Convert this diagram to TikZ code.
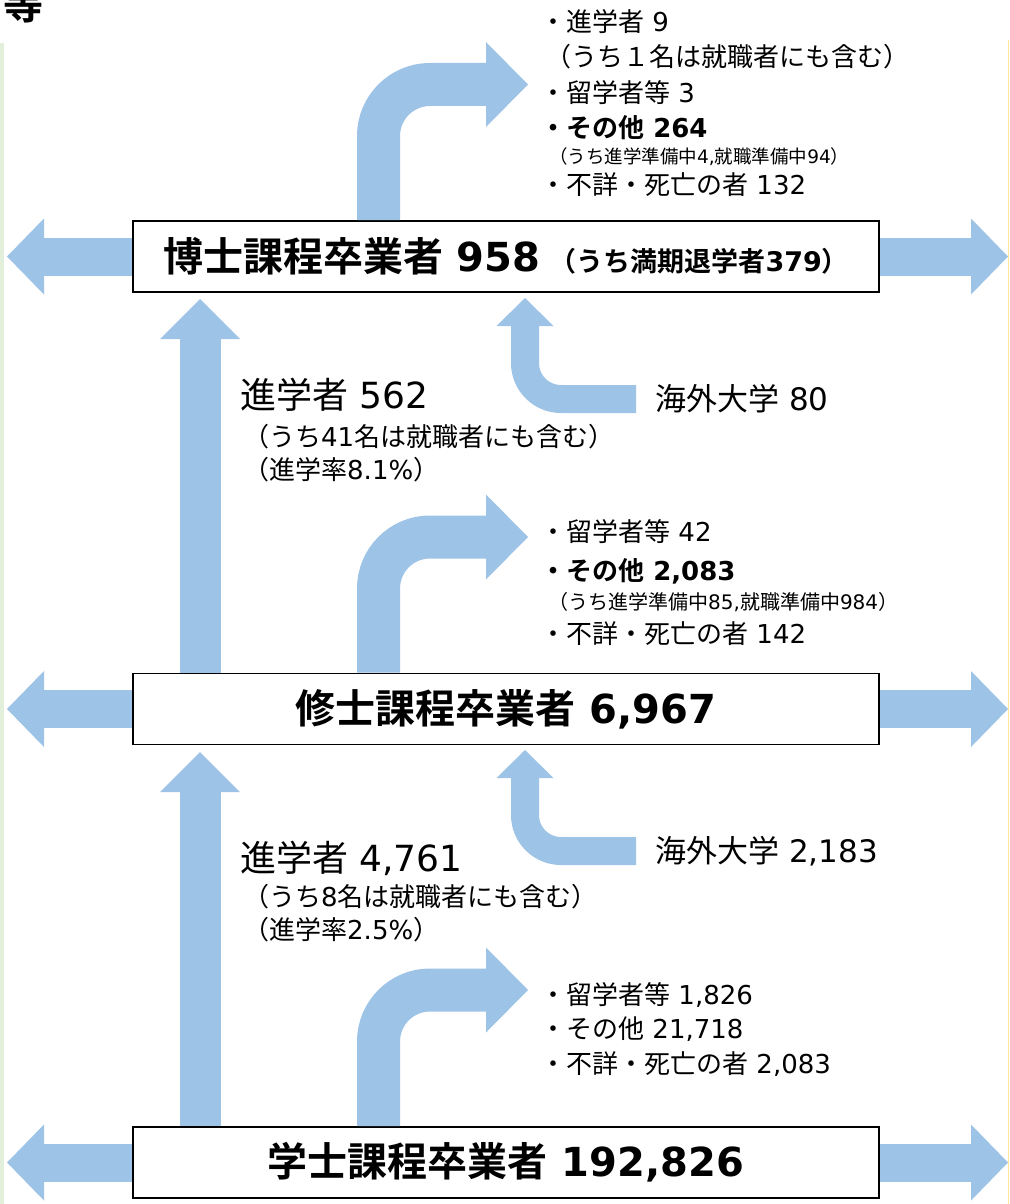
\documentclass[tikz,border=0pt]{standalone}
\usepackage{fontspec}
\setmainfont{Noto Sans CJK JP}[BoldFont={Noto Sans CJK JP Bold}]
\newfontfamily\numfont{DejaVu Sans}
\usetikzlibrary{arrows.meta, positioning}
\definecolor{flowblue}{RGB}{157,195,230}
\definecolor{edgegreen}{RGB}{226,239,218}
\definecolor{edgeyellow}{RGB}{255,230,153}
\tikzset{
  gradbox/.style={rectangle, draw=black, line width=1.8pt, fill=white,
    minimum width=746pt, minimum height=71pt, inner sep=0pt,
    font=\fontsize{40}{48}\selectfont\bfseries},
  sidearrow/.style={draw=flowblue, line width=38pt,
    -{Triangle[length=37pt, width=76pt, line width=0pt]}},
  uparrow/.style={draw=flowblue, line width=41pt,
    -{Triangle[length=40pt, width=80pt, line width=0pt]}},
  bentarrow/.style={draw=flowblue, line width=43pt, rounded corners=51.5pt,
    -{Triangle[length=42pt, width=85pt, line width=0pt]}},
  abroadarrow/.style={draw=flowblue, line width=28pt, rounded corners=36pt,
    -{Triangle[length=28pt, width=57pt, line width=0pt]}},
  listtext/.style={anchor=west, inner sep=0pt, font=\fontsize{26}{31}\selectfont},
  notetext/.style={anchor=west, inner sep=0pt, font=\fontsize{18.5}{22}\selectfont},
  ratetext/.style={anchor=west, inner sep=0pt, font=\fontsize{36}{42}\selectfont},
  subtext/.style={anchor=west, inner sep=0pt, font=\fontsize{26}{31}\selectfont},
  abroadtext/.style={anchor=west, inner sep=0pt, inner xsep=19pt,
    font=\fontsize{31}{36}\selectfont},
}

\begin{document}
\begin{tikzpicture}[x=1pt, y=-1pt]
  \clip (0,0) rectangle (1009,1204);
  \fill[edgegreen] (0,43) rectangle (4,1204);
  \draw[edgeyellow, line width=1pt] (1008,40) -- (1008,1204);
  \node[anchor=base west, inner sep=0pt, font=\fontsize{40}{48}\selectfont\bfseries]
    (topchar) at (3,20) {等};

  % the three graduate boxes
  \node[gradbox] (doc) at (506,256.5)
    {博士課程卒業者{\numfont\ 958} {\fontsize{27}{32}\selectfont（うち満期退学者{\numfont 379}）}};
  \node[gradbox] (mast) at (506,709) {修士課程卒業者{\numfont\ 6,967}};
  \node[gradbox] (bach) at (506,1162.5) {学士課程卒業者{\numfont\ 192,826}};

  % arrow ends
  \coordinate (docleft) at (7,256.5);
  \coordinate (docright) at (1008,256.5);
  \coordinate (mastleft) at (7,709);
  \coordinate (mastright) at (1008,709);
  \coordinate (bachleft) at (7,1162.5);
  \coordinate (bachright) at (1008,1162.5);
  \coordinate (docup) at (200,299);
  \coordinate (mastup) at (200,752);
  \coordinate (docturn) at (378.5,84.5);
  \coordinate (docout) at (528,84.5);
  \coordinate (mastturn) at (378.5,537);
  \coordinate (mastout) at (528,537);
  \coordinate (bachturn) at (378.5,990);
  \coordinate (bachout) at (528,990);
  \coordinate (docin) at (525,298);
  \coordinate (mastin) at (525,750);

  % doctoral outflow
  \node[listtext] (docA) at (540,22) {・進学者{\numfont\ 9}};
  \node[listtext] (docB) at (545,57) {（うち１名は就職者にも含む）};
  \node[listtext] (docC) at (540,93) {・留学者等{\numfont\ 3}};
  \node[listtext, font=\fontsize{26}{31}\selectfont\bfseries] (docD) at (540,128)
    {・その他{\numfont\ 264}};
  \node[notetext] (docE) at (549,157)
    {（うち進学準備中{\numfont 4,}就職準備中{\numfont 94}）};
  \node[listtext] (docF) at (540,185) {・不詳・死亡の者{\numfont\ 132}};

  % master outflow
  \node[listtext] (mastA) at (540,532) {・留学者等{\numfont\ 42}};
  \node[listtext, font=\fontsize{26}{31}\selectfont\bfseries] (mastB) at (540,571)
    {・その他{\numfont\ 2,083}};
  \node[notetext, font=\fontsize{20}{24}\selectfont] (mastC) at (548,602)
    {（うち進学準備中{\numfont 85,}就職準備中{\numfont 984}）};
  \node[listtext] (mastD) at (540,634) {・不詳・死亡の者{\numfont\ 142}};

  % bachelor outflow
  \node[listtext] (bachA) at (540,995) {・留学者等{\numfont\ 1,826}};
  \node[listtext] (bachB) at (540,1029) {・その他{\numfont\ 21,718}};
  \node[listtext] (bachC) at (540,1064) {・不詳・死亡の者{\numfont\ 2,083}};

  % progression labels
  \node[ratetext] (mastgo) at (240,395) {進学者{\numfont\ 562}};
  \node[subtext] (mastgoA) at (243,437) {（うち{\numfont 41}名は就職者にも含む）};
  \node[subtext] (mastgoB) at (243,470) {（進学率{\numfont 8.1\%}）};
  \node[ratetext] (bachgo) at (240,858) {進学者{\numfont\ 4,761}};
  \node[subtext] (bachgoA) at (243,897) {（うち{\numfont 8}名は就職者にも含む）};
  \node[subtext] (bachgoB) at (243,930) {（進学率{\numfont 2.5\%}）};

  % from abroad
  \node[abroadtext] (docabr) at (636,399) {海外大学{\numfont\ 80}};
  \node[abroadtext] (mastabr) at (636,851) {海外大学{\numfont\ 2,183}};

  \draw[sidearrow] (doc.west) -- (docleft);
  \draw[sidearrow] (doc.east) -- (docright);
  \draw[sidearrow] (mast.west) -- (mastleft);
  \draw[sidearrow] (mast.east) -- (mastright);
  \draw[sidearrow] (bach.west) -- (bachleft);
  \draw[sidearrow] (bach.east) -- (bachright);

  \draw[uparrow] (mast.north -| docup) -- (docup);
  \draw[uparrow] (bach.north -| mastup) -- (mastup);

  \draw[bentarrow] (doc.north -| docturn) |- (docout);
  \draw[bentarrow] (mast.north -| mastturn) |- (mastout);
  \draw[bentarrow] (bach.north -| bachturn) |- (bachout);

  \draw[abroadarrow] (docabr.west) -| (docin);
  \draw[abroadarrow] (mastabr.west) -| (mastin);
\end{tikzpicture}
\end{document}
